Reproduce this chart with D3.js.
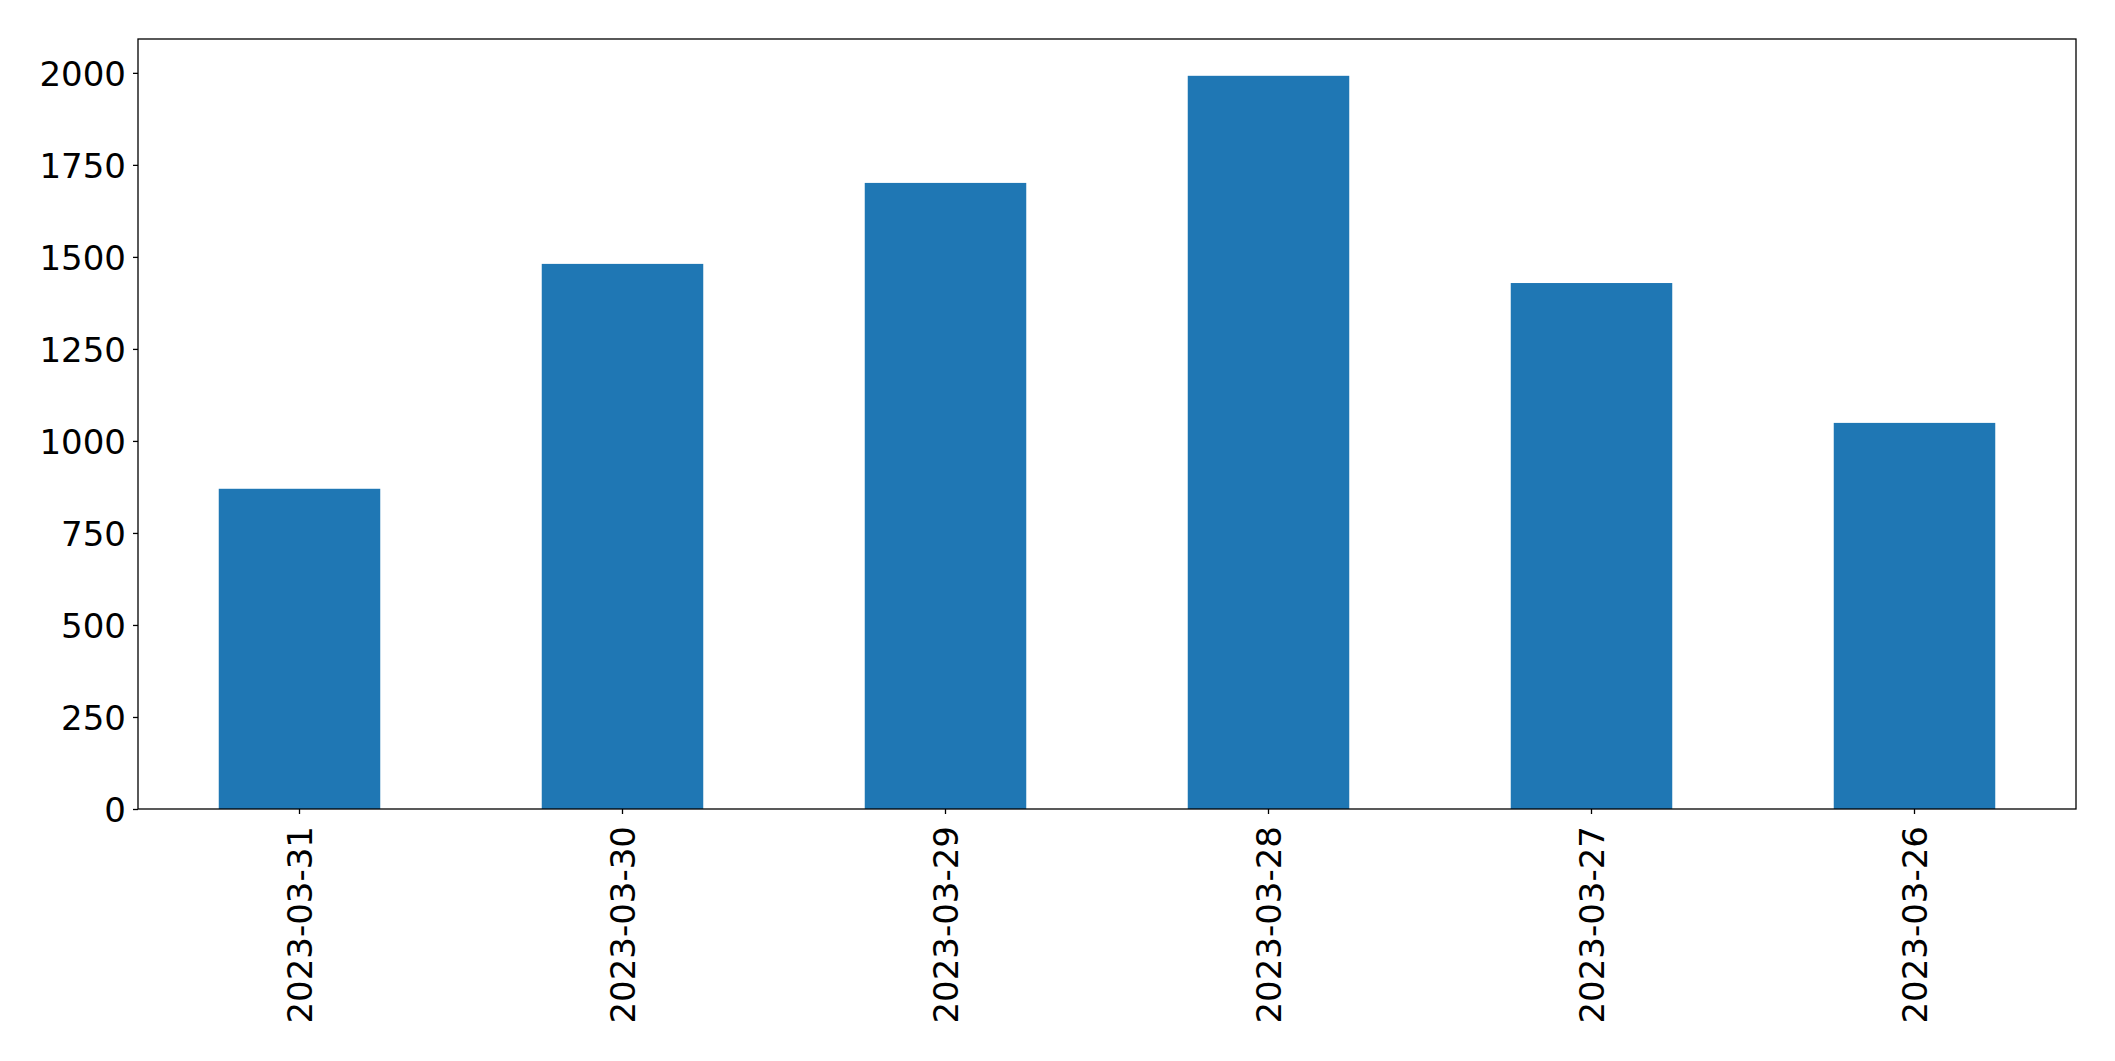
<!DOCTYPE html>
<html>
<head>
<meta charset="utf-8">
<script src="https://cdn.jsdelivr.net/npm/d3@7"></script>
<style>
  html, body { margin: 0; padding: 0; background: #fff; }
  svg { display: block; }
  text { font-family: "DejaVu Sans", sans-serif; }
</style>
</head>
<body>
<svg id="chart" width="2115" height="1061"></svg>
<script>
const categories = ["2023-03-31", "2023-03-30", "2023-03-29", "2023-03-28", "2023-03-27", "2023-03-26"];
const values = [870, 1481, 1701, 1992, 1429, 1049];
const yTicks = [0, 250, 500, 750, 1000, 1250, 1500, 1750, 2000];

(function () {
const svg = d3.select("#chart");
const mLeft = 138, mRight = 2076, mTop = 39, mBottom = 809;

const x = d3.scaleBand().domain(categories).range([mLeft, mRight])
  .paddingInner(0.5).paddingOuter(0.25);
const y = d3.scaleLinear().domain([0, 2092]).range([mBottom, mTop]);

svg.append("g").selectAll("rect").data(values).join("rect")
  .attr("x", (d, i) => x(categories[i]))
  .attr("y", d => y(d))
  .attr("width", x.bandwidth())
  .attr("height", d => y(0) - y(d))
  .attr("fill", "#1f77b4");

const yAxis = svg.append("g").attr("transform", `translate(${mLeft},0)`)
  .call(d3.axisLeft(y).tickValues(yTicks).tickSize(5).tickPadding(7).tickFormat(d3.format("d")));
yAxis.select(".domain").remove();
yAxis.selectAll("line").attr("stroke", "#000").attr("stroke-width", 1.3);
yAxis.selectAll("text").attr("font-size", "34px").attr("fill", "#000")
  .attr("font-family", "DejaVu Sans, sans-serif").attr("dy", "0.37em");

const xAxis = svg.append("g").attr("transform", `translate(0,${mBottom})`)
  .call(d3.axisBottom(x).tickSize(5).tickPadding(7));
xAxis.select(".domain").remove();
xAxis.selectAll("line").attr("stroke", "#000").attr("stroke-width", 1.3);
xAxis.selectAll("text")
  .attr("font-size", "34px").attr("fill", "#000")
  .attr("font-family", "DejaVu Sans, sans-serif")
  .attr("transform", "rotate(-90)")
  .attr("text-anchor", "end")
  .attr("x", -17)
  .attr("y", 0)
  .attr("dy", "0.36em");

svg.append("rect")
  .attr("x", mLeft).attr("y", mTop)
  .attr("width", mRight - mLeft).attr("height", mBottom - mTop)
  .attr("fill", "none").attr("stroke", "#000").attr("stroke-width", 1.3);
})();
</script>
</body>
</html>
